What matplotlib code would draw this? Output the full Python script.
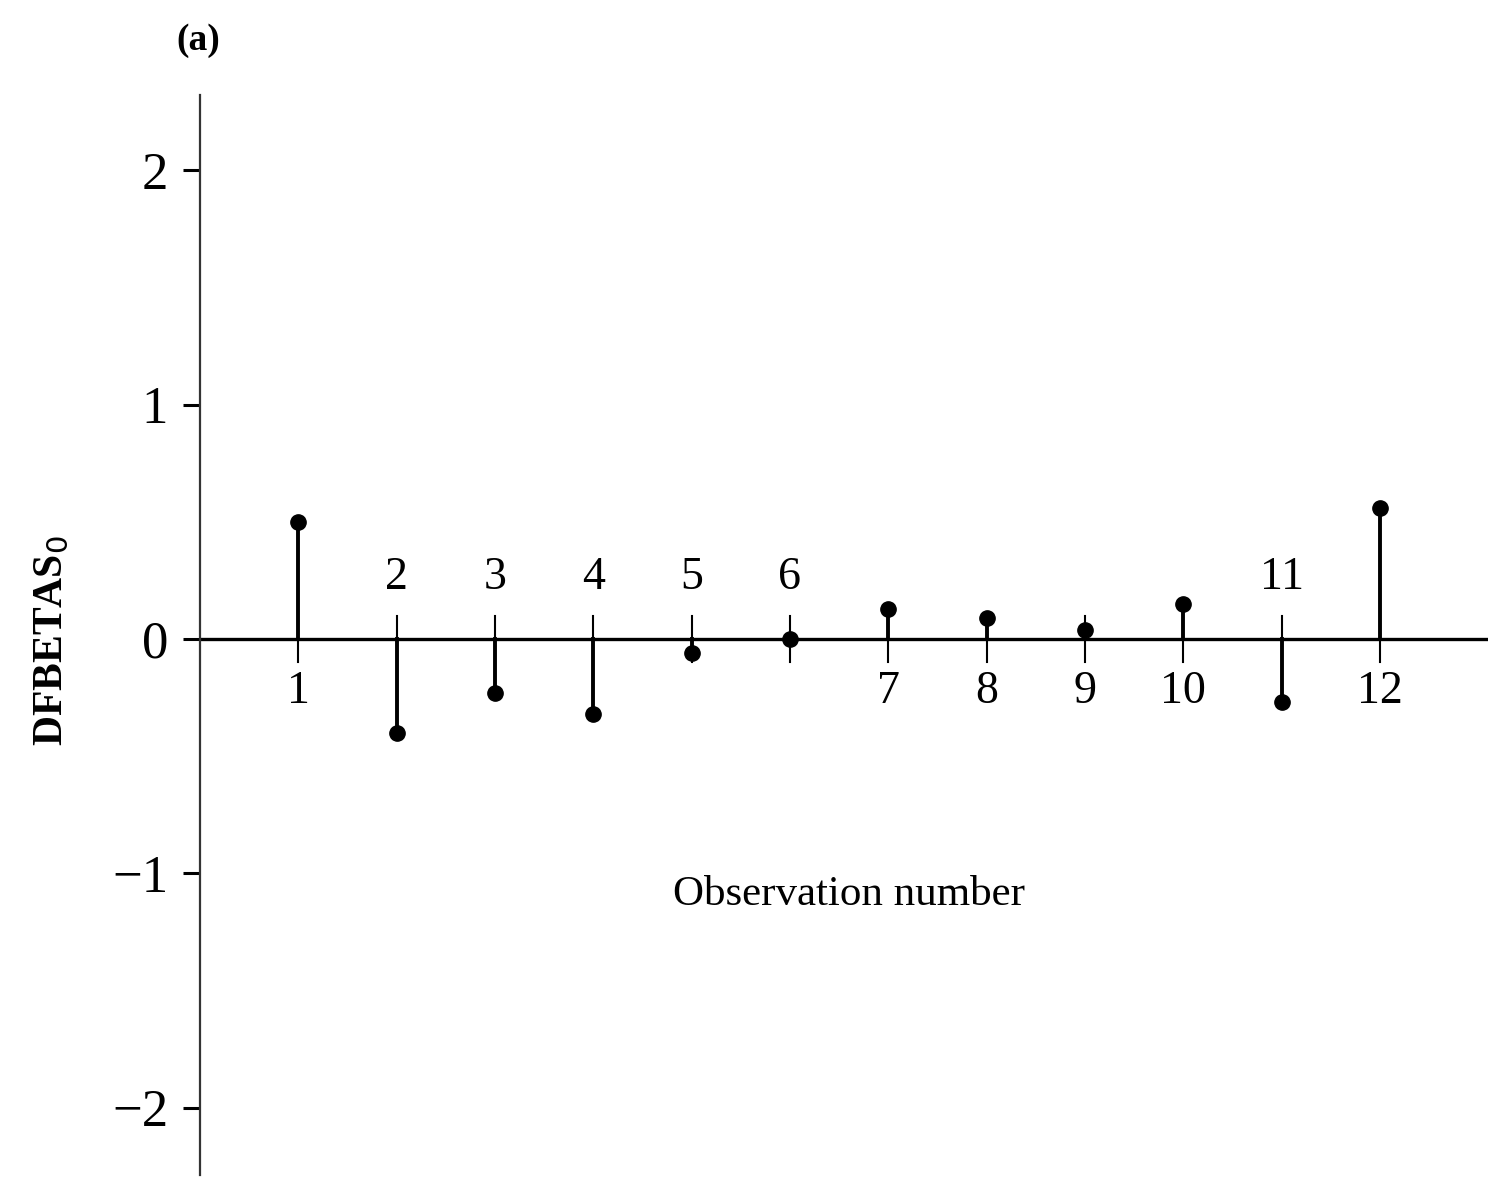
import numpy as np
from matplotlib import pyplot as plt

# observation numbers and DFBETAS_0 values
obs = [1, 2, 3, 4, 5, 6, 7, 8, 9, 10, 11, 12]
dfbetas = [0.50, -0.40, -0.23, -0.32, -0.06, 0.0, 0.13, 0.09, 0.04, 0.15, -0.27, 0.56]
yticks = [-2, -1, 0, 1, 2]
ytick_labels = ['\u22122', '\u22121', '0', '1', '2']

plt.rcParams['font.family'] = ['Liberation Serif', 'DejaVu Serif']

fig = plt.figure(figsize=(14.88, 11.79), dpi=100)
ax = fig.add_axes([0.1344, 0.003, 0.8656, 0.916])

ax.set_xlim(0, 13.1)
ax.set_ylim(-2.29, 2.32)

# baseline
ax.axhline(0, color='black', lw=2.4, zorder=2)

for x, v in zip(obs, dfbetas):
    # small cross tick through the baseline
    ax.plot([x, x], [-0.1, 0.1], color='black', lw=1.5, zorder=2)
    # stem and dot
    ax.plot([x, x], [0, v], color='black', lw=2.8, zorder=3)
    ax.plot(x, v, 'o', color='black', ms=11, zorder=4)
    if v > 0:
        ax.text(x, -0.225, str(x), ha='center', va='center', fontsize=33)
    else:
        ax.text(x, 0.26, str(x), ha='center', va='center', fontsize=33)

ax.text(6.6, -1.09, 'Observation number', ha='center', va='center', fontsize=31)

for s in ['top', 'right', 'bottom']:
    ax.spines[s].set_visible(False)
ax.spines['left'].set_linewidth(1.6)
ax.spines['left'].set_color('#333333')

ax.set_xticks([])
ax.set_yticks(yticks)
ax.set_yticklabels(ytick_labels, fontsize=38)
ax.tick_params(axis='y', direction='out', length=12, width=2.2, pad=11)

fig.text(0.035, 0.457, r'DFBETAS$_0$', rotation=90, ha='center', va='center',
         fontsize=30, fontweight='bold')
fig.text(0.133, 0.966, '(a)', ha='center', va='center', fontsize=27, fontweight='bold')

plt.savefig('out.png', dpi=100)
